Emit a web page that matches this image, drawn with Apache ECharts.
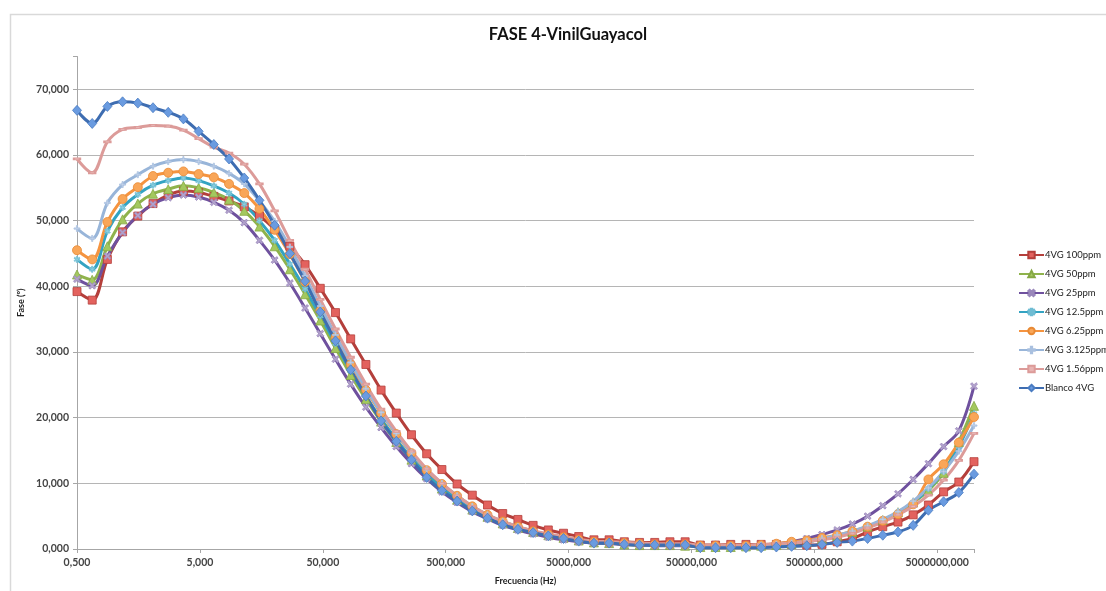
<!DOCTYPE html>
<html>
<head>
<meta charset="utf-8">
<script src="https://cdn.jsdelivr.net/npm/echarts@6/dist/echarts.min.js"></script>
<style>
  html, body { margin: 0; padding: 0; background: #fff; }
  #main { width: 1106px; height: 591px; }
</style>
</head>
<body>
<div id="main"></div>
<script>
// frecuencias (Hz), barrido logarítmico 0.5 Hz - 10 MHz
const frequencies = [
  0.5, 0.665, 0.884, 1.175, 1.563, 2.078, 2.763, 3.674, 4.886, 6.497,
  8.639, 11.49, 15.28, 20.31, 27.01, 35.92, 47.76, 63.50, 84.44, 112.3,
  149.3, 198.5, 263.9, 350.9, 466.7, 620.5, 825.1, 1097, 1459, 1940,
  2579, 3429, 4560, 6063, 8062, 10717, 14251, 18950, 25198, 33505,
  44552, 59241, 78772, 104730, 139270, 185190, 246240, 327430, 435380, 578930,
  769800, 1023400, 1361000, 1809700, 2406300, 3199700, 4254600, 5657400, 7522600, 10000000
];

const seriesNames = ['4VG 100ppm', '4VG 50ppm', '4VG 25ppm', '4VG 12.5ppm',
  '4VG 6.25ppm', '4VG 3.125ppm', '4VG 1.56ppm', 'Blanco 4VG'];

const vg100 = [
  39.2, 37.9, 44.1, 48.3, 50.7, 52.6, 53.9, 54.5, 54.3, 53.7,
  53.0, 52.1, 50.7, 48.7, 46.1, 43.3, 39.7, 36.0, 32.0, 28.1,
  24.2, 20.7, 17.4, 14.5, 12.1, 9.9, 8.2, 6.7, 5.4, 4.5,
  3.6, 2.9, 2.4, 1.9, 1.4, 1.4, 1.1, 1.0, 1.0, 1.1,
  1.1, 0.6, 0.6, 0.7, 0.7, 0.7, 0.7, 0.7, 0.6, 0.7,
  1.1, 1.6, 2.6, 3.4, 4.1, 5.2, 6.7, 8.7, 10.2, 13.3
];
const vg50 = [
  41.8, 41.0, 46.1, 50.2, 52.6, 54.1, 54.8, 55.3, 55.0, 54.3,
  53.2, 51.5, 49.1, 46.1, 42.6, 38.8, 34.8, 30.6, 26.5, 22.8,
  19.4, 16.3, 13.6, 11.2, 9.2, 7.5, 6.0, 4.9, 3.9, 3.2,
  2.6, 2.1, 1.7, 1.3, 1.0, 0.9, 0.7, 0.6, 0.6, 0.6,
  0.5, 0.3, 0.3, 0.3, 0.4, 0.5, 0.6, 0.8, 1.1, 1.5,
  2.0, 2.6, 3.4, 4.4, 5.6, 7.1, 8.9, 11.6, 16.3, 21.8
];
const vg25 = [
  41.1, 40.1, 44.6, 48.2, 50.8, 52.5, 53.5, 53.9, 53.6, 52.8,
  51.6, 49.7, 47.0, 44.0, 40.5, 36.7, 32.8, 28.9, 25.1, 21.6,
  18.5, 15.6, 13.0, 10.7, 8.7, 7.1, 5.7, 4.6, 3.6, 2.9,
  2.3, 1.8, 1.4, 1.1, 0.9, 0.8, 0.7, 0.6, 0.5, 0.5,
  0.5, 0.4, 0.4, 0.4, 0.5, 0.6, 0.8, 1.1, 1.6, 2.2,
  2.9, 3.8, 5.0, 6.6, 8.4, 10.6, 13.0, 15.6, 18.0, 24.8
];
const vg12_5 = [
  44.1, 42.6, 48.4, 52.0, 54.0, 55.4, 56.1, 56.5, 56.1, 55.3,
  54.2, 52.5, 50.0, 47.0, 43.4, 39.6, 35.5, 31.3, 27.1, 23.3,
  19.8, 16.7, 13.9, 11.5, 9.4, 7.7, 6.2, 5.0, 4.0, 3.2,
  2.6, 2.1, 1.7, 1.3, 1.0, 0.9, 0.8, 0.7, 0.6, 0.6,
  0.6, 0.4, 0.4, 0.4, 0.4, 0.5, 0.6, 0.8, 1.1, 1.5,
  2.0, 2.6, 3.4, 4.4, 5.6, 7.1, 9.2, 11.8, 15.6, 20.6
];
const vg6_25 = [
  45.5, 44.1, 49.8, 53.3, 55.1, 56.8, 57.3, 57.5, 57.1, 56.6,
  55.6, 54.2, 51.8, 48.6, 44.9, 40.7, 36.3, 32.2, 28.1, 24.2,
  20.7, 17.5, 14.6, 12.0, 9.9, 8.1, 6.5, 5.2, 4.2, 3.4,
  2.7, 2.2, 1.8, 1.4, 1.1, 1.0, 0.9, 0.8, 0.7, 0.7,
  0.7, 0.5, 0.5, 0.5, 0.5, 0.6, 0.8, 1.1, 1.3, 1.7,
  2.1, 2.7, 3.4, 4.3, 5.3, 6.8, 10.6, 12.9, 16.2, 20.1
];
const vg3_125 = [
  48.8, 47.3, 52.7, 55.5, 57.0, 58.3, 59.0, 59.3, 59.0, 58.3,
  57.2, 55.6, 53.0, 49.9, 46.0, 41.6, 37.0, 32.6, 28.4, 24.4,
  20.8, 17.6, 14.7, 12.1, 10.0, 8.1, 6.5, 5.2, 4.2, 3.4,
  2.7, 2.2, 1.8, 1.4, 1.1, 1.0, 0.9, 0.8, 0.7, 0.7,
  0.6, 0.5, 0.5, 0.5, 0.5, 0.6, 0.7, 0.9, 1.2, 1.6,
  2.1, 2.7, 3.5, 4.5, 5.7, 7.3, 9.3, 11.8, 14.9, 18.8
];
const vg1_56 = [
  59.4, 57.3, 62.0, 63.9, 64.2, 64.5, 64.4, 63.8, 62.5, 61.2,
  60.3, 58.6, 55.6, 51.5, 47.0, 42.6, 38.0, 33.5, 29.2, 25.1,
  21.3, 17.9, 14.9, 12.2, 10.0, 8.1, 6.5, 5.2, 4.2, 3.4,
  2.8, 2.3, 1.9, 1.5, 1.2, 1.1, 1.0, 0.9, 0.8, 0.8,
  0.8, 0.6, 0.6, 0.6, 0.6, 0.7, 0.8, 0.9, 1.1, 1.4,
  1.8, 2.4, 3.2, 4.1, 5.2, 6.5, 8.2, 10.5, 13.5, 17.6
];
const blanco = [
  66.8, 64.8, 67.4, 68.1, 67.9, 67.2, 66.5, 65.5, 63.6, 61.6,
  59.4, 56.5, 53.1, 49.3, 45.0, 40.8, 36.1, 31.7, 27.3, 23.3,
  19.5, 16.4, 13.6, 10.9, 8.9, 7.3, 5.8, 4.7, 3.7, 3.0,
  2.5, 2.0, 1.6, 1.2, 0.9, 0.9, 0.7, 0.6, 0.6, 0.6,
  0.6, 0.2, 0.2, 0.2, 0.2, 0.2, 0.3, 0.4, 0.5, 0.7,
  1.0, 1.2, 1.6, 2.1, 2.6, 3.6, 5.9, 7.2, 8.6, 11.4
];

const yTicks = [0, 10, 20, 30, 40, 50, 60, 70];

const chartDom = document.getElementById('main');
const myChart = echarts.init(chartDom);

// estilos de cada serie (línea, marcador)
const styles = [
  { line: '#b43f3b', fill: '#e3625e', border: '#b43f3b', symbol: 'rect', size: 8 },
  { line: '#8fb34c', fill: '#a3c85e', border: '#86a845', symbol: 'triangle', size: 9 },
  { line: '#6f519e', fill: '#b2a2cc', border: '#9a88bb', symbol: 'path://M2,0L5,3L8,0L10,2L7,5L10,8L8,10L5,7L2,10L0,8L3,5L0,2Z', size: 7 },
  { line: '#33a3c2', fill: '#8ccfe0', border: '#6fbcd3', symbol: 'path://M4,0H6V3.5L8.5,1.5L9.5,3L7,5L9.5,7L8.5,8.5L6,6.5V10H4V6.5L1.5,8.5L0.5,7L3,5L0.5,3L1.5,1.5L4,3.5Z', size: 6 },
  { line: '#f59440', fill: '#f9a658', border: '#e88a35', symbol: 'circle', size: 9 },
  { line: '#98b5d9', fill: '#c3d3ea', border: '#a9c0df', symbol: 'path://M4,0H6V4H10V6H6V10H4V6H0V4H4Z', size: 6 },
  { line: '#dc9b99', fill: '#e8b4b3', border: '#dc9b99', symbol: 'path://M0,0H10V3H0Z', size: [6, 2] },
  { line: '#3e6db1', fill: '#6a9be0', border: '#4a7cc2', symbol: 'diamond', size: [9, 10] }
];
const values = [vg100, vg50, vg25, vg12_5, vg6_25, vg3_125, vg1_56, blanco];

const series = seriesNames.map((name, i) => ({
  name: name,
  type: 'line',
  smooth: 0.35,
  symbol: styles[i].symbol,
  symbolSize: styles[i].size,
  showAllSymbol: true,
  lineStyle: { color: styles[i].line, width: 3 },
  itemStyle: { color: styles[i].fill, borderColor: styles[i].border, borderWidth: 0.8 },
  emphasis: { disabled: true },
  data: frequencies.map((f, k) => [Math.log10(f), values[i][k]])
}));

function esNum(v, d) {
  return v.toFixed(d).replace('.', ',');
}

const option = {
  animation: false,
  backgroundColor: '#fff',
  textStyle: { fontFamily: 'Lato, "Open Sans", sans-serif' },
  graphic: [{
    type: 'rect',
    left: 8, top: 12,
    shape: { width: 1110, height: 600 },
    style: { fill: 'none', stroke: '#d9d9d9', lineWidth: 1.5 },
    silent: true
  }],
  title: {
    text: 'FASE 4-VinilGuayacol',
    left: 563,
    textAlign: 'center',
    top: 21,
    textStyle: { fontSize: 16.5, fontWeight: 'bold', color: '#111', fontFamily: 'Lato, sans-serif' }
  },
  legend: {
    orient: 'vertical',
    left: 1013,
    top: 245,
    itemWidth: 25,
    itemHeight: 8,
    itemGap: 9,
    textStyle: { fontSize: 9.5, color: '#222', padding: [0, 0, 0, -4] },
    data: seriesNames
  },
  grid: { left: 77, right: 132, top: 56.5, bottom: 40.5 },
  xAxis: {
    type: 'value',
    min: Math.log10(frequencies[0]),
    max: Math.log10(frequencies[frequencies.length - 1]),
    interval: 1,
    name: 'Frecuencia (Hz)',
    nameLocation: 'middle',
    nameGap: 28,
    nameTextStyle: { fontSize: 9, fontWeight: 'bold', color: '#222' },
    axisLine: { onZero: false, lineStyle: { color: '#a6a6a6', width: 1 } },
    axisTick: { show: true, length: 4, lineStyle: { color: '#a6a6a6' } },
    splitLine: { show: false },
    axisLabel: {
      fontSize: 10.5, fontWeight: 'bold', color: '#444', margin: 8,
      formatter: function (v) {
        if (v > 6.95) return '';
        const f = Number(Math.pow(10, v).toPrecision(1));
        return esNum(f, 3);
      }
    }
  },
  yAxis: {
    type: 'value',
    min: yTicks[0],
    max: 75,
    interval: 10,
    name: 'Fase (º)',
    nameLocation: 'middle',
    nameGap: 48,
    nameTextStyle: { fontSize: 9, fontWeight: 'bold', color: '#222' },
    axisLine: { show: true, onZero: false, lineStyle: { color: '#a6a6a6', width: 1 } },
    axisTick: { show: true, length: 4, lineStyle: { color: '#a6a6a6' } },
    splitLine: {
      show: true,
      lineStyle: {
        color: yTicks.map(() => '#b5b5b5').concat(['rgba(0,0,0,0)']),
        width: 1
      }
    },
    axisLabel: {
      fontSize: 10.5, fontWeight: 'bold', color: '#444', margin: 8,
      formatter: function (v) {
        return yTicks.indexOf(v) >= 0 ? esNum(v, 3) : '';
      }
    }
  },
  series: series
};

option && myChart.setOption(option);
</script>
</body>
</html>
